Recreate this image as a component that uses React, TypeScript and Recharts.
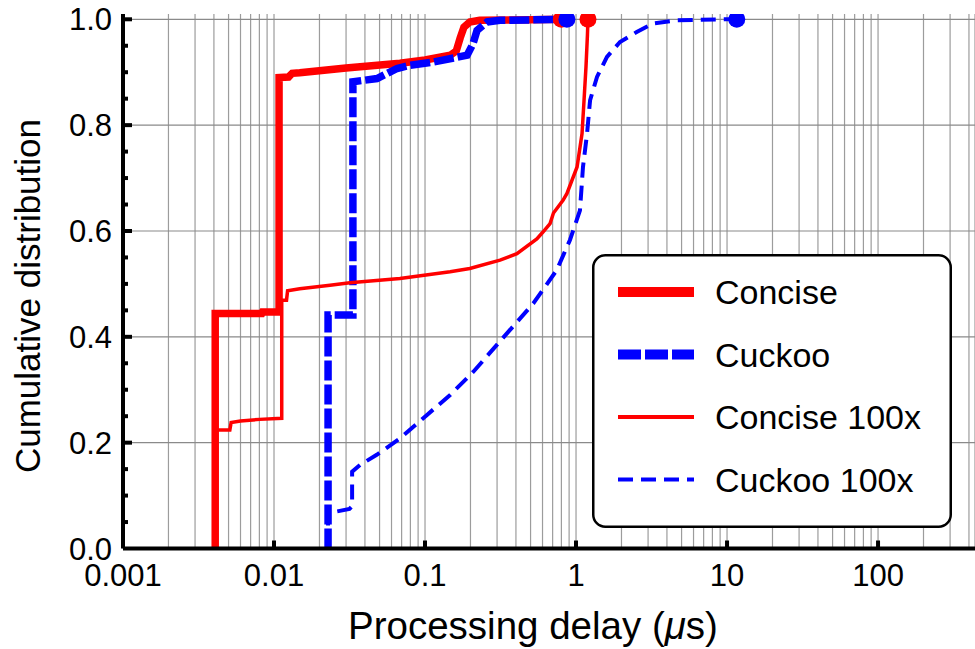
import React from 'react';
import {
  ComposedChart,
  Line,
  Scatter,
  XAxis,
  YAxis,
  CartesianGrid,
  Legend,
} from 'recharts';

// ---- Data ----
const concise = [
  { x: 0.00408, y: 0 }, { x: 0.00408, y: 0.444 }, { x: 0.0083, y: 0.444 }, { x: 0.0084, y: 0.447 },
  { x: 0.0108, y: 0.447 }, { x: 0.0108, y: 0.89 }, { x: 0.0125, y: 0.891 }, { x: 0.0132, y: 0.898 },
  { x: 0.0148, y: 0.899 }, { x: 0.03, y: 0.908 }, { x: 0.0682, y: 0.917 }, { x: 0.1, y: 0.923 },
  { x: 0.147, y: 0.932 }, { x: 0.161, y: 0.94 }, { x: 0.171, y: 0.965 }, { x: 0.181, y: 0.985 },
  { x: 0.198, y: 0.995 }, { x: 0.23, y: 0.998 }, { x: 0.5, y: 0.999 }, { x: 0.8, y: 1.0 },
];

const cuckoo = [
  { x: 0.0228, y: 0 }, { x: 0.0228, y: 0.441 }, { x: 0.0333, y: 0.441 }, { x: 0.0333, y: 0.882 },
  { x: 0.0481, y: 0.888 }, { x: 0.0653, y: 0.907 }, { x: 0.0796, y: 0.913 }, { x: 0.113, y: 0.919 },
  { x: 0.19, y: 0.932 }, { x: 0.208, y: 0.954 }, { x: 0.221, y: 0.979 }, { x: 0.258, y: 0.995 },
  { x: 0.314, y: 0.998 }, { x: 0.87, y: 1.0 },
];

const concise100 = [
  { x: 0.00408, y: 0 }, { x: 0.00408, y: 0.224 }, { x: 0.0051, y: 0.224 }, { x: 0.0052, y: 0.238 },
  { x: 0.006, y: 0.241 }, { x: 0.008, y: 0.244 }, { x: 0.01125, y: 0.246 }, { x: 0.01125, y: 0.469 },
  { x: 0.0121, y: 0.469 }, { x: 0.0123, y: 0.487 }, { x: 0.0148, y: 0.491 }, { x: 0.0235, y: 0.4976 },
  { x: 0.0318, y: 0.502 }, { x: 0.0682, y: 0.51 }, { x: 0.1466, y: 0.523 }, { x: 0.198, y: 0.529 },
  { x: 0.314, y: 0.545 }, { x: 0.406, y: 0.557 }, { x: 0.55, y: 0.585 }, { x: 0.604, y: 0.598 },
  { x: 0.673, y: 0.614 }, { x: 0.709, y: 0.634 }, { x: 0.82, y: 0.658 }, { x: 0.871, y: 0.671 },
  { x: 1.016, y: 0.721 }, { x: 1.096, y: 0.784 }, { x: 1.13, y: 0.847 }, { x: 1.164, y: 0.91 },
  { x: 1.19, y: 0.97 }, { x: 1.2, y: 1.0 },
];

const cuckoo100 = [
  { x: 0.0228, y: 0 }, { x: 0.0228, y: 0.0695 }, { x: 0.026, y: 0.07 }, { x: 0.0316, y: 0.0747 },
  { x: 0.0329, y: 0.08 }, { x: 0.0329, y: 0.145 }, { x: 0.0372, y: 0.158 }, { x: 0.0479, y: 0.177 },
  { x: 0.0682, y: 0.208 }, { x: 0.1026, y: 0.252 }, { x: 0.1466, y: 0.29 }, { x: 0.209, y: 0.334 },
  { x: 0.3475, y: 0.406 }, { x: 0.521, y: 0.463 }, { x: 0.745, y: 0.526 }, { x: 0.912, y: 0.583 },
  { x: 1.062, y: 0.639 }, { x: 1.112, y: 0.721 }, { x: 1.183, y: 0.784 }, { x: 1.239, y: 0.847 },
  { x: 1.377, y: 0.891 }, { x: 1.603, y: 0.929 }, { x: 1.955, y: 0.957 }, { x: 2.523, y: 0.976 },
  { x: 3.236, y: 0.992 }, { x: 4.667, y: 0.998 }, { x: 8.99, y: 1.0 }, { x: 11.6, y: 1.0 },
];

const conciseEnd = [{ x: 0.8, y: 1.0 }];
const cuckooEnd = [{ x: 0.87, y: 1.0 }];
const concise100End = [{ x: 1.2, y: 1.0 }];
const cuckoo100End = [{ x: 11.6, y: 1.0 }];

const xMajorTicks = [0.001, 0.01, 0.1, 1, 10, 100];
const xMajorLabels = ['0.001', '0.01', '0.1', '1', '10', '100'];
const xGridTicks = [
  0.001, 0.002, 0.003, 0.004, 0.005, 0.006, 0.007, 0.008, 0.009,
  0.01, 0.02, 0.03, 0.04, 0.05, 0.06, 0.07, 0.08, 0.09,
  0.1, 0.2, 0.3, 0.4, 0.5, 0.6, 0.7, 0.8, 0.9,
  1, 2, 3, 4, 5, 6, 7, 8, 9,
  10, 20, 30, 40, 50, 60, 70, 80, 90,
  100, 200, 300, 400,
];
const yTicks = [0, 0.05, 0.1, 0.15, 0.2, 0.25, 0.3, 0.35, 0.4, 0.45, 0.5, 0.55, 0.6, 0.65, 0.7, 0.75, 0.8, 0.85, 0.9, 0.95, 1.0];
const yMajorTicks = [0, 0.2, 0.4, 0.6, 0.8, 1.0];
const yMajorLabels = ['0.0', '0.2', '0.4', '0.6', '0.8', '1.0'];
const yGridValues = [0.2, 0.4, 0.6, 0.8, 1.0];

const legendItems = [
  { name: 'Concise', color: '#ff0000', width: 10, dash: undefined as string | undefined },
  { name: 'Cuckoo', color: '#0000ff', width: 10, dash: '23 4' },
  { name: 'Concise 100x', color: '#ff0000', width: 4, dash: undefined as string | undefined },
  { name: 'Cuckoo 100x', color: '#0000ff', width: 4, dash: '15 8' },
];

const FONT = '"Liberation Sans", Arial, Helvetica, sans-serif';

const XTick = (props: any) => {
  const { x, y, payload } = props;
  const idx = xMajorTicks.indexOf(payload.value);
  if (idx < 0) return <g />;
  return (
    <g>
      {idx > 0 && <line x1={x} x2={x} y1={y} y2={y - 8} stroke="#000" strokeWidth={4} />}
      <text x={x} y={y + 37.5} textAnchor="middle" fontSize={31} fontFamily={FONT} fill="#000">
        {xMajorLabels[idx]}
      </text>
    </g>
  );
};

const YTick = (props: any) => {
  const { x, y, payload } = props;
  const idx = yMajorTicks.indexOf(payload.value);
  const major = idx >= 0;
  return (
    <g>
      {payload.value > 0 && (
        <line x1={x} x2={x + (major ? 9 : 5)} y1={y} y2={y} stroke="#000" strokeWidth={4} />
      )}
      {major && (
        <text x={x - 11} y={y} dy="0.36em" textAnchor="end" fontSize={31} fontFamily={FONT} fill="#000">
          {yMajorLabels[idx]}
        </text>
      )}
    </g>
  );
};

const LegendBox = () => (
  <svg width={360} height={274} style={{ display: 'block' }}>
    <rect x={1.25} y={1.25} width={357.5} height={271.5} rx={12} ry={12} fill="#fff" stroke="#000" strokeWidth={2.5} />
    {legendItems.map((it, i) => {
      const cy = 38 + i * 62.5;
      return (
        <g key={it.name}>
          <line x1={26} x2={102} y1={cy} y2={cy} stroke={it.color} strokeWidth={it.width} strokeDasharray={it.dash} />
          <text x={123} y={cy} dy="0.36em" fontSize={34} fontFamily={FONT} fill="#000">
            {it.name}
          </text>
        </g>
      );
    })}
  </svg>
);

const dotShape = (color: string) => (p: any) => <circle cx={p.cx} cy={p.cy} r={8.5} fill={color} />;

export default function App() {
  return (
    <div style={{ position: 'absolute', left: 0, top: 0, width: 975, height: 649, background: '#fff' }}>
      <ComposedChart width={975} height={649} margin={{ top: 14, right: 0, bottom: 0, left: 0 }}>
        <CartesianGrid vertical={true} horizontal={false} stroke="#9c9c9c" strokeWidth={1.2} />
        <CartesianGrid vertical={false} horizontal={true} horizontalValues={yGridValues} stroke="#8a8a8a" strokeWidth={1.2} />
        <XAxis
          dataKey="x"
          type="number"
          scale="log"
          domain={[0.001, 438.6]}
          allowDataOverflow
          ticks={xGridTicks}
          interval={0}
          tickSize={0}
          tickMargin={0}
          tickLine={false}
          tick={<XTick />}
          height={100.5}
          axisLine={{ stroke: '#000', strokeWidth: 4 }}
          label={() => (
            <text x={533} y={639} textAnchor="middle" fontSize={38.5} fontFamily={FONT} fill="#000">
              <tspan>Processing delay (</tspan>
              <tspan fontStyle="italic">μ</tspan>
              <tspan>s)</tspan>
            </text>
          )}
        />
        <YAxis
          dataKey="y"
          type="number"
          domain={[0, 1.01]}
          allowDataOverflow
          ticks={yTicks}
          interval={0}
          tickSize={0}
          tickMargin={0}
          tickLine={false}
          tick={<YTick />}
          width={123}
          axisLine={{ stroke: '#000', strokeWidth: 4 }}
          label={() => (
            <text
              x={40}
              y={296}
              transform="rotate(-90 40 296)"
              textAnchor="middle"
              fontSize={35}
              fontFamily={FONT}
              fill="#000"
            >
              Cumulative distribution
            </text>
          )}
        />
        <Legend
          layout="vertical"
          align="center"
          verticalAlign="middle"
          wrapperStyle={{ position: 'absolute', left: 592, top: 254, width: 360, height: 274 }}
          content={() => <LegendBox />}
        />
        <Line data={concise} dataKey="y" name="Concise" type="linear" stroke="#ff0000" strokeWidth={7.5}
          dot={false} activeDot={false} isAnimationActive={false} />
        <Line data={cuckoo} dataKey="y" name="Cuckoo" type="linear" stroke="#0000ff" strokeWidth={7.5}
          strokeDasharray="20 4" dot={false} activeDot={false} isAnimationActive={false} />
        <Line data={concise100} dataKey="y" name="Concise 100x" type="linear" stroke="#ff0000" strokeWidth={3.5}
          dot={false} activeDot={false} isAnimationActive={false} />
        <Line data={cuckoo100} dataKey="y" name="Cuckoo 100x" type="linear" stroke="#0000ff" strokeWidth={4}
          strokeDasharray="15 8" dot={false} activeDot={false} isAnimationActive={false} />
        <Scatter data={conciseEnd} dataKey="y" shape={dotShape('#ff0000')} isAnimationActive={false} />
        <Scatter data={cuckooEnd} dataKey="y" shape={dotShape('#0000ff')} isAnimationActive={false} />
        <Scatter data={concise100End} dataKey="y" shape={dotShape('#ff0000')} isAnimationActive={false} />
        <Scatter data={cuckoo100End} dataKey="y" shape={dotShape('#0000ff')} isAnimationActive={false} />
      </ComposedChart>
    </div>
  );
}
